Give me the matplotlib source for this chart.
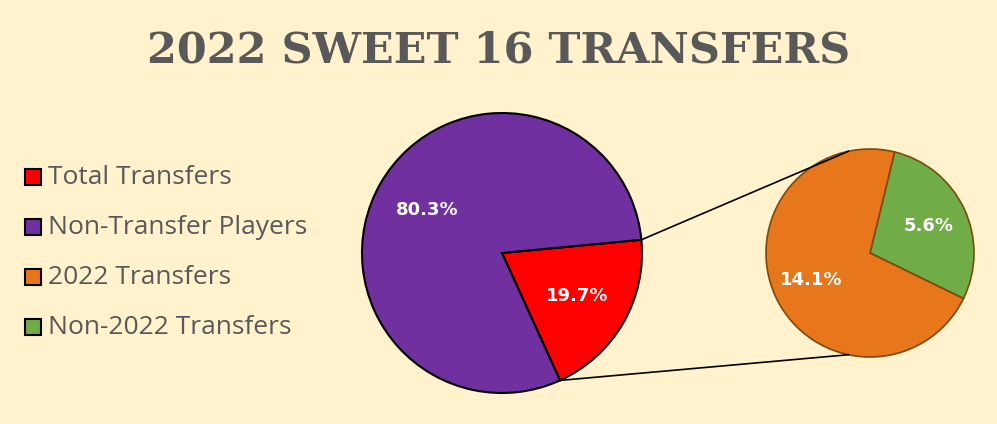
import numpy as np
import matplotlib.pyplot as plt
from matplotlib.patches import Rectangle

# data
main_labels = ['Total Transfers', 'Non-Transfer Players']
main_vals = [19.7, 80.3]
sub_labels = ['Non-2022 Transfers', '2022 Transfers']
sub_vals = [5.6, 14.1]
legend_labels = ['Total Transfers', 'Non-Transfer Players', '2022 Transfers', 'Non-2022 Transfers']
legend_colors = ['#FF0000', '#7030A0', '#E8761A', '#70AD47']

bg = '#FFF2CC'
W, H = 997, 424
fig = plt.figure(figsize=(W / 100, H / 100), dpi=100, facecolor=bg)
ax = fig.add_axes([0, 0, 1, 1])

fig.text(0.5, 0.88, '2022 SWEET 16 TRANSFERS', ha='center', va='center',
         fontsize=31, fontweight='bold', family='DejaVu Serif', color='#595959')

lbl = dict(color='white', fontweight='bold', fontsize=13)

# big pie
c1, r1 = (502, 424 - 253), 140
start1 = -65.5
ax.pie(main_vals, colors=['#FF0000', '#7030A0'], startangle=start1, center=c1, radius=r1,
       autopct='%1.1f%%', pctdistance=0.62, frame=True,
       wedgeprops=dict(edgecolor='black', linewidth=1.5), textprops=lbl)

# small pie, labels show share of the whole
sub_total = sum(sub_vals)
ax.pie(sub_vals, colors=['#70AD47', '#E8761A'], startangle=-26, center=c2 if False else (870, 424 - 253),
       radius=104, autopct=lambda p: '%.1f%%' % (p * sub_total / 100), pctdistance=0.62, frame=True,
       wedgeprops=dict(edgecolor='#7a4a10', linewidth=1.2), textprops=lbl)
c2, r2 = (870, 424 - 253), 104
ax.set_xlim(0, W)
ax.set_ylim(0, H)
ax.set_aspect('equal')
ax.axis('off')

# connector lines
a_top = np.deg2rad(start1 + main_vals[0] / 100 * 360)
a_bot = np.deg2rad(start1)
p1 = (c1[0] + r1 * np.cos(a_top), c1[1] + r1 * np.sin(a_top))
p2 = (c1[0] + r1 * np.cos(a_bot), c1[1] + r1 * np.sin(a_bot))
q1 = (c2[0] + r2 * np.cos(np.deg2rad(102)), c2[1] + r2 * np.sin(np.deg2rad(102)))
q2 = (c2[0] + r2 * np.cos(np.deg2rad(258)), c2[1] + r2 * np.sin(np.deg2rad(258)))
ax.plot([p1[0], q1[0]], [p1[1], q1[1]], color='black', lw=1.2)
ax.plot([p2[0], q2[0]], [p2[1], q2[1]], color='black', lw=1.2)

# legend
for i, (lab, col) in enumerate(zip(legend_labels, legend_colors)):
    y = 424 - (177 + 50 * i)
    ax.add_patch(Rectangle((25, y - 8), 16, 16, facecolor=col, edgecolor='black', lw=1.5))
    ax.text(48, y, lab, va='center', ha='left', fontsize=19, color='#595959', family='Open Sans')

fig.savefig('out.png', dpi=100, facecolor=bg)
